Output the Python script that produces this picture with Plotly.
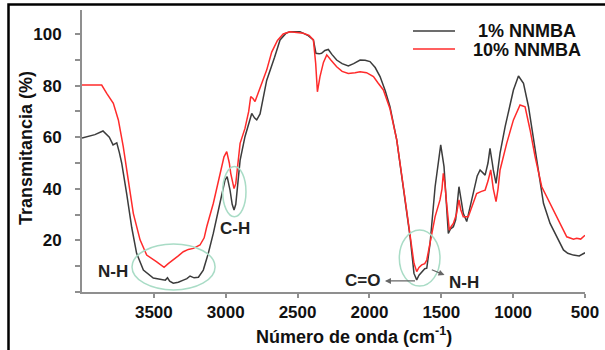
import plotly.graph_objects as go

# ---- data ----
wn_1 = [4000, 3950, 3910, 3854, 3810, 3784, 3758, 3740, 3724, 3689, 3654, 3620, 3573, 3504, 3450, 3420,
        3405, 3390, 3365, 3330, 3295, 3270, 3248, 3220, 3190, 3156, 3121, 3086, 3040, 3005, 2990, 2970,
        2955, 2942, 2930, 2919, 2900, 2866, 2840, 2819, 2800, 2784, 2761, 2715, 2660, 2622, 2580, 2553,
        2483, 2430, 2390, 2372, 2350, 2333, 2310, 2286, 2260, 2228, 2190, 2147, 2110, 2065, 2030, 1996,
        1960, 1926, 1890, 1857, 1810, 1764, 1717, 1690, 1671, 1655, 1636, 1615, 1601, 1578, 1543, 1504,
        1481, 1465, 1451, 1435, 1416, 1400, 1377, 1360, 1347, 1323, 1300, 1277, 1250, 1230, 1195, 1175,
        1161, 1145, 1138, 1119, 1091, 1056, 1033, 998, 963, 928, 893, 859, 824, 789, 743, 696, 650, 620,
        581, 540, 500]
t_1 = [59.7, 60.5, 61, 62.4, 60, 57, 57.8, 54, 50, 38, 25, 15, 8.5, 5.4, 5.0, 4.6,
       5.5, 4.2, 3.4, 3.8, 4.6, 5.2, 6.2, 5.5, 5.7, 8.5, 15, 22.8, 34.5, 43.4, 44.7, 39.5,
       34, 31.8, 34, 39.5, 51, 60.2, 65, 69.2, 67.5, 66.7, 69, 82, 91, 97.7, 100.3, 100.9,
       100.9, 99.5, 97.7, 92.5, 92.3, 92.5, 93.6, 94, 92, 89.9, 88.5, 87.6, 88.5, 89.9, 89.8, 89.3,
       87, 83.5, 78, 71.8, 59, 40.8, 21.4, 7.2, 4.7, 6.5, 7.9, 9, 9.2, 18.9, 40.8, 57,
       48.6, 35, 22.7, 24.5, 25.3, 28, 40.8, 35, 30.5, 27.3, 33, 39.5, 45, 47.3, 45.3, 50,
       55.7, 50, 47.3, 42.1, 53.8, 64, 69.2, 78.3, 83.7, 80.9, 71.8, 59, 46, 34.4, 26.6, 21.4, 16.3, 15,
       14.3, 14, 15.2]

wn_10 = [4000, 3950, 3900, 3863, 3828, 3782, 3747, 3713, 3678, 3643, 3596, 3550, 3480, 3450, 3429, 3400,
         3365, 3330, 3295, 3260, 3225, 3179, 3150, 3132, 3086, 3040, 3012, 2993, 2975, 2965, 2942, 2930,
         2919, 2900, 2866, 2840, 2826, 2810, 2796, 2761, 2715, 2680, 2640, 2600, 2553, 2460, 2420, 2390,
         2374, 2362, 2344, 2320, 2297, 2270, 2228, 2190, 2147, 2100, 2065, 2020, 1972, 1940, 1903, 1857,
         1810, 1764, 1717, 1690, 1671, 1655, 1636, 1615, 1601, 1567, 1543, 1509, 1495, 1486, 1475, 1463,
         1444, 1430, 1416, 1395, 1377, 1365, 1347, 1312, 1280, 1254, 1220, 1195, 1175, 1156, 1138, 1119,
         1105, 1091, 1045, 998, 952, 917, 882, 847, 801, 755, 696, 627, 580, 558, 530, 500]
t_10 = [80.2, 80.2, 80.4, 80.2, 77, 73.1, 66.7, 56.3, 43.4, 30.5, 20.2, 14.3, 11.7, 10.5, 9.6, 11,
        12.4, 14, 15.6, 16.5, 16.9, 18.2, 21, 25.3, 34.4, 46, 52.4, 54.4, 50, 46, 40.1, 42,
        47.3, 57.6, 63.4, 70, 75.7, 75, 73.8, 79, 86, 93, 97.5, 100, 100.9, 100.3, 99.5, 97.7,
        88.6, 77.6, 83.5, 89, 91.9, 90, 87.3, 85.5, 84.7, 85, 85.4, 85, 83.5, 81, 78.3, 71,
        59, 40.8, 21.4, 11.1, 7.9, 9.5, 10.5, 11, 12.4, 22.7, 29.2, 35.7, 40, 46, 42, 34.4,
        24, 25.5, 26.6, 30, 35.7, 32, 29.2, 29.2, 34, 38.2, 39, 39.5, 43, 47.3, 40, 35,
        40, 47.3, 57.6, 66.7, 72.5, 71.8, 62.8, 52.4, 40.8, 35.7, 29.2, 21.4, 20.5, 20.8, 20.5, 22]

series_names = ["1% NNMBA", "10% NNMBA"]
x_tickvals = [3500, 3000, 2500, 2000, 1500, 1000, 500]
x_ticktext = ["3500", "3000", "2500", "2000", "1500", "1000", "500"]
y_tickvals = [0, 10, 20, 30, 40, 50, 60, 70, 80, 90, 100]
y_ticktext = ["", "", "20", "", "40", "", "60", "", "80", "", "100"]

plain_labels = ["N-H", "C-H"]
plain_x = [3784, 2935]
plain_y = [7.8, 24.8]
arrow_labels = ["C=O", "N-H"]
arrow_text_x = [2045, 1342]
arrow_text_y = [4.3, 3.5]
arrow_from_x = [1683, 1566]
arrow_from_y = [4.3, 8.6]

BLACK = "#3c3c3c"
RED = "#ff2b2b"
MINT = "#a9dcc6"
AXIS = "#8f8f8f"
FONT = "Liberation Sans, Arial, sans-serif"
W, H = 605, 350

def px2paper_x(px):
    return px / W

def px2paper_y(py):
    return (H - py) / H

fig = go.Figure()
fig.add_trace(go.Scatter(x=wn_1, y=t_1, mode="lines", name=series_names[0],
                         line=dict(color=BLACK, width=1.5), showlegend=False))
fig.add_trace(go.Scatter(x=wn_10, y=t_10, mode="lines", name=series_names[1],
                         line=dict(color=RED, width=1.5), showlegend=False))

# ellipses highlighting bands
ell = dict(type="circle", xref="x", yref="y", line=dict(color=MINT, width=1.5), layer="above")
fig.add_shape(x0=3652, x1=3074, y0=0.8, y1=18.6, **ell)
fig.add_shape(x0=3021, x1=2859, y0=29.2, y1=48.6, **ell)
fig.add_shape(x0=1792, x1=1509, y0=2.3, y1=24.0, **ell)

lab_font = dict(family=FONT, size=17, color="#222222", weight="bold")
for t, x, y in zip(plain_labels, plain_x, plain_y):
    fig.add_annotation(x=x, y=y, text=t, showarrow=False, font=lab_font)

for t, tx, ty, fx, fy in zip(arrow_labels, arrow_text_x, arrow_text_y, arrow_from_x, arrow_from_y):
    fig.add_annotation(x=fx, y=fy, ax=tx, ay=ty, axref="x", ayref="y", text=t,
                       showarrow=True, arrowside="start", startarrowhead=2, startarrowsize=1,
                       arrowwidth=1.2, arrowcolor="#666666", borderpad=4, font=lab_font)

# manual legend
for name, col, py in [(series_names[0], BLACK, 31), (series_names[1], RED, 49)]:
    fig.add_shape(type="line", xref="paper", yref="paper",
                  x0=px2paper_x(413), x1=px2paper_x(455), y0=px2paper_y(py), y1=px2paper_y(py),
                  line=dict(color=col, width=1.5))
    fig.add_annotation(xref="paper", yref="paper", x=px2paper_x(527), y=px2paper_y(py),
                       text=name, showarrow=False, xanchor="center", yanchor="middle", height=17,
                       font=dict(family=FONT, size=18, color="#111111", weight="bold"))

# axis titles
fig.add_annotation(xref="paper", yref="paper", x=px2paper_x(26), y=px2paper_y(148),
                   text="Transmitancia (%)", textangle=-90, showarrow=False,
                   xanchor="center", yanchor="middle",
                   font=dict(family=FONT, size=18, color="#111111", weight="bold"))
fig.add_annotation(xref="paper", yref="paper", x=px2paper_x(354), y=px2paper_y(335),
                   text="Número de onda (cm<sup>-1</sup>)", showarrow=False,
                   xanchor="center", yanchor="middle",
                   font=dict(family=FONT, size=18, color="#111111", weight="bold"))

# picture frame (left and top edges) as paper-referenced lines
fig.add_shape(type="rect", xref="paper", yref="paper", layer="above",
              x0=px2paper_x(8.5), x1=px2paper_x(640), y0=px2paper_y(400), y1=px2paper_y(4.5),
              line=dict(color="black", width=2.5), fillcolor="rgba(0,0,0,0)")

fig.update_layout(
    width=W, height=H,
    margin=dict(l=0, r=0, t=0, b=0, autoexpand=False),
    paper_bgcolor="white", plot_bgcolor="rgba(0,0,0,0)",
    font=dict(family=FONT, size=17, color="#111111"),
    showlegend=False,
    xaxis=dict(domain=[px2paper_x(82), px2paper_x(585)], automargin=False,
               range=[4000, 500], tickvals=x_tickvals, ticktext=x_ticktext,
               showgrid=False, zeroline=False, showline=True, linecolor=AXIS, linewidth=2,
               ticks="outside", ticklen=4, tickcolor=AXIS, tickwidth=1.5,
               tickfont=dict(family=FONT, size=17, color="#111111", weight="bold"),
               ticklabelstandoff=0),
    yaxis=dict(domain=[px2paper_y(292), px2paper_y(10)], automargin=False,
               range=[0, 109.3], tickvals=y_tickvals, ticktext=y_ticktext,
               showgrid=False, zeroline=False, showline=True, linecolor=AXIS, linewidth=2,
               ticks="outside", ticklen=5, tickcolor=AXIS, tickwidth=1.5,
               tickfont=dict(family=FONT, size=17, color="#111111", weight="bold"),
               ticklabelstandoff=10),
)

fig.write_html("out.html", config={"displayModeBar": False},
               post_script="document.body.style.margin='0px';document.body.style.overflow='hidden';")
